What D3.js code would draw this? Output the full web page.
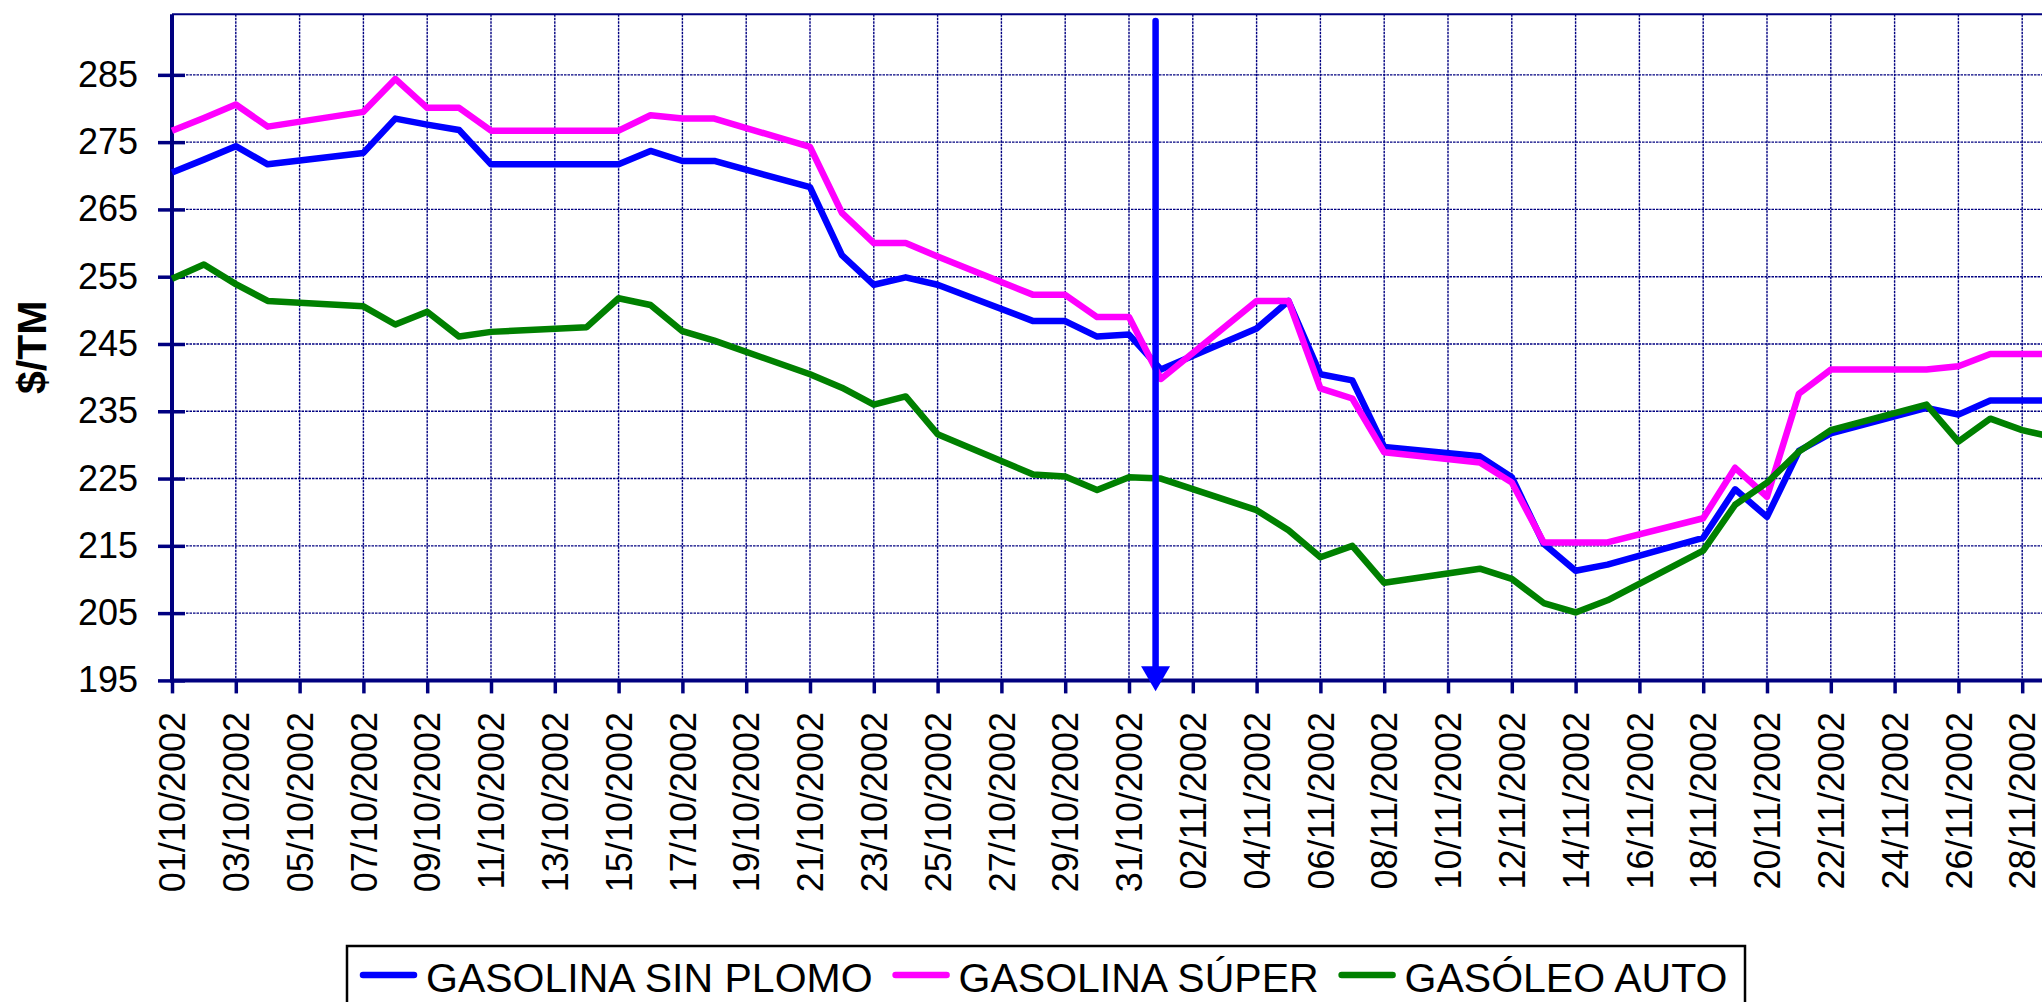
<!DOCTYPE html>
<html>
<head>
<meta charset="utf-8">
<script src="https://cdn.jsdelivr.net/npm/d3@7"></script>
<style>
  body { margin: 0; background: #fff; }
  svg { display: block; font-family: "Liberation Sans", Arial, sans-serif; }
</style>
</head>
<body>
<svg id="chart" width="2042" height="1002"></svg>
<script>
// quoted days (weekdays only, lines join across weekends)
var dates = [
  "01/10/2002", "02/10/2002", "03/10/2002", "04/10/2002", "07/10/2002", "08/10/2002",
  "09/10/2002", "10/10/2002", "11/10/2002", "14/10/2002", "15/10/2002", "16/10/2002",
  "17/10/2002", "18/10/2002", "21/10/2002", "22/10/2002", "23/10/2002", "24/10/2002",
  "25/10/2002", "28/10/2002", "29/10/2002", "30/10/2002", "31/10/2002", "01/11/2002",
  "04/11/2002", "05/11/2002", "06/11/2002", "07/11/2002", "08/11/2002", "11/11/2002",
  "12/11/2002", "13/11/2002", "14/11/2002", "15/11/2002", "18/11/2002", "19/11/2002",
  "20/11/2002", "21/11/2002", "22/11/2002", "25/11/2002", "26/11/2002", "27/11/2002",
  "28/11/2002", "29/11/2002"
];
var sinPlomo = [
  270.5, 272.4, 274.4, 271.7, 273.4, 278.5, 277.6, 276.8, 271.7, 271.7, 271.7, 273.7,
  272.2, 272.2, 268.3, 258.2, 253.8, 254.9, 253.8, 248.4, 248.4, 246.1, 246.4, 241.2,
  247.3, 251.4, 240.5, 239.6, 229.7, 228.3, 225.2, 215.3, 211.3, 212.2, 216.2, 223.4,
  219.3, 229.1, 231.7, 235.5, 234.5, 236.6, 236.6, 236.6
];
var superGas = [
  276.7, 278.6, 280.6, 277.3, 279.5, 284.4, 280.1, 280.1, 276.7, 276.7, 276.7, 279.0,
  278.5, 278.5, 274.3, 264.5, 260.0, 260.0, 258.0, 252.3, 252.3, 249.0, 249.0, 239.8,
  251.4, 251.4, 238.4, 236.9, 228.9, 227.4, 224.4, 215.5, 215.5, 215.5, 219.1, 226.6,
  222.3, 237.6, 241.2, 241.2, 241.7, 243.5, 243.5, 243.5
];
var gasoleo = [
  254.7, 256.8, 253.9, 251.4, 250.6, 247.9, 249.8, 246.1, 246.8, 247.5, 251.8, 250.8,
  246.9, 245.5, 240.5, 238.5, 236.0, 237.2, 231.6, 225.6, 225.3, 223.3, 225.2, 225.0,
  220.3, 217.3, 213.3, 215.0, 209.5, 211.6, 210.1, 206.5, 205.1, 206.9, 214.3, 221.1,
  224.4, 229.0, 232.2, 236.0, 230.5, 233.9, 232.2, 231.1
];
var seriesNames = ["GASOLINA SIN PLOMO", "GASOLINA SÚPER", "GASÓLEO AUTO"];
var seriesColors = ["#0000ff", "#ff00ff", "#008000"];
var yTicks = [195, 205, 215, 225, 235, 245, 255, 265, 275, 285];
var xDomain = ["01/10/2002", "30/11/2002"];
var yDomain = [195, 294];
var yTitle = "$/TM";
// hand-drawn arrow marking the start of November
var arrowDate = "31/10/2002 20";
var arrowValues = [293, 193.4];

var parse = d3.utcParse("%d/%m/%Y");
var parseHour = d3.utcParse("%d/%m/%Y %H");
var fmt = d3.utcFormat("%d/%m/%Y");

var svg = d3.select("#chart");
var plotLeft = 172, plotTop = 14.3, plotBottom = 680.4, dayW = 31.9;
var navy = "#000080";

var x = d3.scaleUtc()
  .domain(xDomain.map(parse))
  .range([plotLeft, plotLeft + dayW * 60]);
var y = d3.scaleLinear().domain(yDomain).range([plotBottom, plotTop]);
var plotRight = x.range()[1];

var allDays = d3.utcDay.range(parse(xDomain[0]), d3.utcDay.offset(parse(xDomain[1]), 1));
var tickDates = allDays.filter(function (d, i) { return i % 2 === 0; });

svg.append("rect").attr("width", 2042).attr("height", 1002).attr("fill", "#fff");

// grid
var grid = svg.append("g")
  .attr("stroke", navy)
  .attr("stroke-width", 1.4)
  .attr("stroke-dasharray", "2.5,1");
grid.selectAll("line.h")
  .data(yTicks.slice(1))
  .enter().append("line")
  .attr("class", "h")
  .attr("x1", plotLeft).attr("x2", plotRight)
  .attr("y1", function (d) { return y(d); })
  .attr("y2", function (d) { return y(d); });
grid.selectAll("line.v")
  .data(tickDates.slice(1))
  .enter().append("line")
  .attr("class", "v")
  .attr("y1", plotTop).attr("y2", plotBottom)
  .attr("x1", function (d) { return x(d); })
  .attr("x2", function (d) { return x(d); });

// plot frame top
svg.append("line")
  .attr("x1", plotLeft).attr("x2", plotRight)
  .attr("y1", plotTop).attr("y2", plotTop)
  .attr("stroke", navy).attr("stroke-width", 2);

// y axis
var yAxis = svg.append("g")
  .attr("transform", "translate(" + plotLeft + ",0)")
  .call(d3.axisLeft(y).tickValues(yTicks).tickSize(14).tickPadding(20).tickSizeOuter(0));
yAxis.select(".domain").remove();
yAxis.selectAll(".tick line")
  .attr("x1", 13).attr("x2", -14)
  .attr("stroke", navy).attr("stroke-width", 3.5);
yAxis.selectAll("text")
  .attr("fill", "#000")
  .style("font-size", "36px")
  .style("font-family", '"Liberation Sans", Arial, sans-serif');
yAxis.append("line")
  .attr("x1", 0).attr("x2", 0)
  .attr("y1", plotTop).attr("y2", plotBottom + 2)
  .attr("stroke", navy).attr("stroke-width", 4);

// x axis
var xAxis = svg.append("g")
  .attr("transform", "translate(0," + plotBottom + ")")
  .call(d3.axisBottom(x).tickValues(tickDates).tickFormat(fmt).tickSize(13).tickSizeOuter(0));
xAxis.select(".domain").remove();
xAxis.selectAll(".tick line")
  .attr("stroke", navy).attr("stroke-width", 3.5);
xAxis.selectAll("text")
  .attr("fill", "#000")
  .attr("transform", "rotate(-90)")
  .attr("x", -31.6)
  .attr("y", 0)
  .attr("dy", "0.35em")
  .style("text-anchor", "end")
  .style("font-size", "36px")
  .style("font-family", '"Liberation Sans", Arial, sans-serif');
xAxis.append("line")
  .attr("x1", plotLeft - 2).attr("x2", plotRight)
  .attr("y1", 0).attr("y2", 0)
  .attr("stroke", navy).attr("stroke-width", 4);

// y title
svg.append("text")
  .attr("transform", "translate(46," + ((plotTop + plotBottom) / 2) + ") rotate(-90)")
  .attr("text-anchor", "middle")
  .style("font-size", "41px")
  .style("font-weight", "bold")
  .text(yTitle);

// series
var series = [sinPlomo, superGas, gasoleo].map(function (vals, k) {
  return {
    name: seriesNames[k],
    color: seriesColors[k],
    values: vals.map(function (v, i) { return { date: parse(dates[i]), v: v }; })
  };
});

var line = d3.line()
  .x(function (d) { return x(d.date); })
  .y(function (d) { return y(d.v); });

svg.selectAll("path.series")
  .data(series)
  .enter().append("path")
  .attr("class", "series")
  .attr("d", function (d) { return line(d.values); })
  .attr("fill", "none")
  .attr("stroke", function (d) { return d.color; })
  .attr("stroke-width", 6.5)
  .attr("stroke-linejoin", "round");

// arrow
var ax = x(parseHour(arrowDate));
var tipY = y(arrowValues[1]);
svg.append("line")
  .attr("x1", ax).attr("x2", ax)
  .attr("y1", y(arrowValues[0])).attr("y2", tipY - 20)
  .attr("stroke", "#0000ff").attr("stroke-width", 6.5)
  .attr("stroke-linecap", "round");
svg.append("path")
  .attr("d", "M" + (ax - 14.5) + "," + (tipY - 25) + "L" + (ax + 14.5) + "," + (tipY - 25) + "L" + ax + "," + tipY + "Z")
  .attr("fill", "#0000ff");

// legend
var legend = svg.append("g");
legend.append("rect")
  .attr("x", 347).attr("y", 946)
  .attr("width", 1398).attr("height", 120)
  .attr("fill", "#fff").attr("stroke", "#000").attr("stroke-width", 2.5);
var lx = 360;
series.forEach(function (s) {
  legend.append("line")
    .attr("x1", lx + 3).attr("x2", lx + 54)
    .attr("y1", 975).attr("y2", 975)
    .attr("stroke", s.color).attr("stroke-width", 6.5)
    .attr("stroke-linecap", "round");
  var t = legend.append("text")
    .attr("x", lx + 66).attr("y", 992)
    .style("font-size", "41px")
    .text(s.name);
  lx = lx + 66 + t.node().getComputedTextLength() + 20;
});
</script>
</body>
</html>
